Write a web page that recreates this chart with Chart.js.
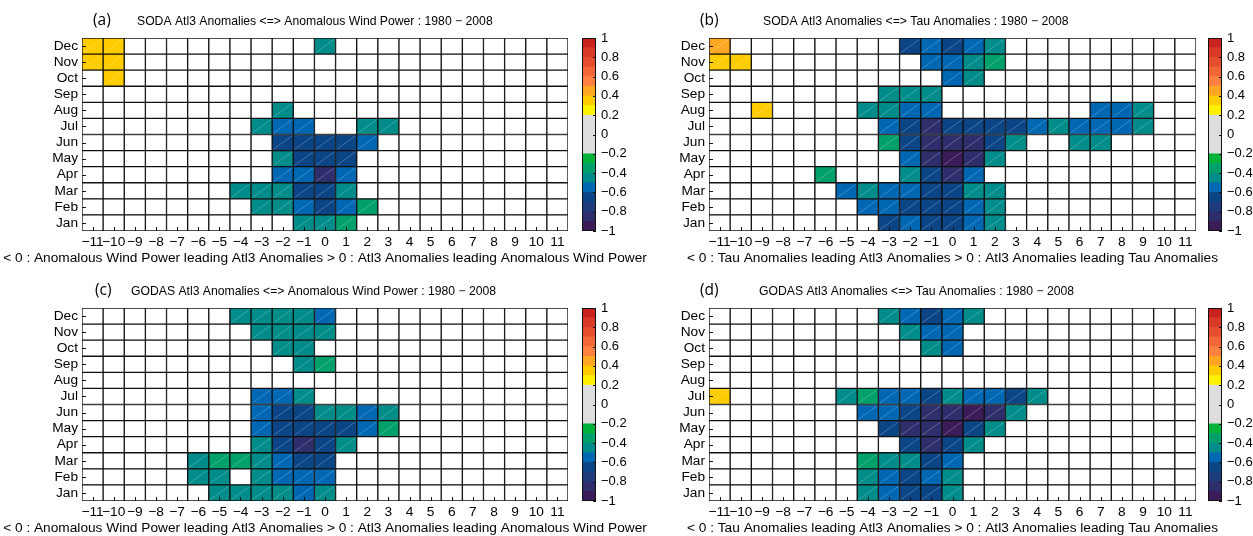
<!DOCTYPE html>
<html>
<head>
<meta charset="utf-8">
<script src="https://cdn.jsdelivr.net/npm/chart.js@4.4.1/dist/chart.umd.min.js"></script>
<style>
  body { margin: 0; background: #fff; width: 1253px; height: 536px; overflow: hidden; position: relative; }
  canvas { position: absolute; }
</style>
</head>
<body>
<canvas id="chartA" width="660" height="268" style="left:0;top:0"></canvas>
<canvas id="chartB" width="627" height="268" style="left:626px;top:0"></canvas>
<canvas id="chartC" width="660" height="266" style="left:0;top:270px"></canvas>
<canvas id="chartD" width="627" height="266" style="left:626px;top:270px"></canvas>
<canvas id="cbarA" width="60" height="268" style="left:570px;top:0"></canvas>
<canvas id="cbarB" width="57" height="268" style="left:1196px;top:0"></canvas>
<canvas id="cbarC" width="60" height="266" style="left:570px;top:270px"></canvas>
<canvas id="cbarD" width="57" height="266" style="left:1196px;top:270px"></canvas>
<script>
// Data
const _ = null;
const months = ['Jan', 'Feb', 'Mar', 'Apr', 'May', 'Jun', 'Jul', 'Aug', 'Sep', 'Oct', 'Nov', 'Dec'];
const lags = [-11, -10, -9, -8, -7, -6, -5, -4, -3, -2, -1, 0, 1, 2, 3, 4, 5, 6, 7, 8, 9, 10, 11];
const colorbarTicks = [-1, -0.8, -0.6, -0.4, -0.2, 0, 0.2, 0.4, 0.6, 0.8, 1];

// 20 colour levels, -1 to 1 in steps of 0.1
const levelColors = [
  '#3b1c58', '#2e2e6c', '#1e3b7c', '#0b4586', '#0067b2', '#008c89', '#00a06b', '#00b23a',
  '#dddddd', '#dddddd', '#dddddd', '#dddddd',
  '#fff200', '#ffcc00', '#ffa722', '#ff8040', '#f26637', '#e54f2e', '#d83a27', '#c92320'
];

// correlations, rows Jan..Dec, columns lag -11..11 (null = not significant)
const sodaWindPower = [
  [_,_,_,_,_,_,_,_,_,_,-.45,-.45,-.35,_,_,_,_,_,_,_,_,_,_],
  [_,_,_,_,_,_,_,_,-.45,-.45,-.55,-.65,-.55,-.35,_,_,_,_,_,_,_,_,_],
  [_,_,_,_,_,_,_,-.45,-.45,-.45,-.65,-.65,-.45,_,_,_,_,_,_,_,_,_,_],
  [_,_,_,_,_,_,_,_,_,-.55,-.55,-.85,-.55,_,_,_,_,_,_,_,_,_,_],
  [_,_,_,_,_,_,_,_,_,-.45,-.65,-.65,-.65,_,_,_,_,_,_,_,_,_,_],
  [_,_,_,_,_,_,_,_,_,-.65,-.65,-.65,-.65,-.55,_,_,_,_,_,_,_,_,_],
  [_,_,_,_,_,_,_,_,-.45,-.55,-.55,_,_,-.45,-.45,_,_,_,_,_,_,_,_],
  [_,_,_,_,_,_,_,_,_,-.45,_,_,_,_,_,_,_,_,_,_,_,_,_],
  [_,_,_,_,_,_,_,_,_,_,_,_,_,_,_,_,_,_,_,_,_,_,_],
  [_,.35,_,_,_,_,_,_,_,_,_,_,_,_,_,_,_,_,_,_,_,_,_],
  [.35,.35,_,_,_,_,_,_,_,_,_,_,_,_,_,_,_,_,_,_,_,_,_],
  [.35,.35,_,_,_,_,_,_,_,_,_,-.45,_,_,_,_,_,_,_,_,_,_,_]
];

const sodaTau = [
  [_,_,_,_,_,_,_,_,-.65,-.55,-.65,-.65,-.55,-.45,_,_,_,_,_,_,_,_,_],
  [_,_,_,_,_,_,_,-.55,-.55,-.65,-.65,-.65,-.55,-.45,_,_,_,_,_,_,_,_,_],
  [_,_,_,_,_,_,-.55,-.45,-.55,-.55,-.65,-.65,-.45,-.45,_,_,_,_,_,_,_,_,_],
  [_,_,_,_,_,-.35,_,_,_,-.45,-.65,-.85,-.55,_,_,_,_,_,_,_,_,_,_],
  [_,_,_,_,_,_,_,_,_,-.55,-.85,-.95,-.85,-.45,_,_,_,_,_,_,_,_,_],
  [_,_,_,_,_,_,_,_,-.35,-.65,-.85,-.85,-.85,-.65,-.45,_,_,-.45,-.45,_,_,_,_],
  [_,_,_,_,_,_,_,_,-.55,-.65,-.85,-.65,-.65,-.65,-.65,-.55,-.45,-.55,-.55,-.55,-.45,_,_],
  [_,_,.35,_,_,_,_,-.45,-.45,-.55,-.55,_,_,_,_,_,_,_,-.55,-.55,-.45,_,_],
  [_,_,_,_,_,_,_,_,-.45,-.45,-.45,_,_,_,_,_,_,_,_,_,_,_,_],
  [_,_,_,_,_,_,_,_,_,_,_,-.55,-.45,_,_,_,_,_,_,_,_,_,_],
  [.35,.35,_,_,_,_,_,_,_,_,-.55,-.55,-.45,-.35,_,_,_,_,_,_,_,_,_],
  [.45,_,_,_,_,_,_,_,_,-.65,-.55,-.65,-.55,-.45,_,_,_,_,_,_,_,_,_]
];

const godasWindPower = [
  [_,_,_,_,_,_,-.45,-.45,-.45,-.45,-.55,-.45,_,_,_,_,_,_,_,_,_,_,_],
  [_,_,_,_,_,-.45,-.45,_,-.45,-.55,-.55,-.55,_,_,_,_,_,_,_,_,_,_,_],
  [_,_,_,_,_,-.45,-.35,-.35,-.45,-.55,-.65,-.65,_,_,_,_,_,_,_,_,_,_,_],
  [_,_,_,_,_,_,_,_,-.45,-.65,-.85,-.65,-.45,_,_,_,_,_,_,_,_,_,_],
  [_,_,_,_,_,_,_,_,-.55,-.65,-.65,-.65,-.65,-.55,-.35,_,_,_,_,_,_,_,_],
  [_,_,_,_,_,_,_,_,-.55,-.65,-.65,-.45,-.45,-.55,-.45,_,_,_,_,_,_,_,_],
  [_,_,_,_,_,_,_,_,-.55,-.55,-.45,_,_,_,_,_,_,_,_,_,_,_,_],
  [_,_,_,_,_,_,_,_,_,_,_,_,_,_,_,_,_,_,_,_,_,_,_],
  [_,_,_,_,_,_,_,_,_,_,-.45,-.35,_,_,_,_,_,_,_,_,_,_,_],
  [_,_,_,_,_,_,_,_,_,-.45,-.45,_,_,_,_,_,_,_,_,_,_,_,_],
  [_,_,_,_,_,_,_,_,-.45,-.45,-.45,-.45,_,_,_,_,_,_,_,_,_,_,_],
  [_,_,_,_,_,_,_,-.45,-.45,-.45,-.45,-.55,_,_,_,_,_,_,_,_,_,_,_]
];

const godasTau = [
  [_,_,_,_,_,_,_,-.45,-.55,-.65,-.65,-.45,_,_,_,_,_,_,_,_,_,_,_],
  [_,_,_,_,_,_,_,-.45,-.55,-.65,-.55,-.45,_,_,_,_,_,_,_,_,_,_,_],
  [_,_,_,_,_,_,_,-.35,-.45,-.45,-.65,-.55,_,_,_,_,_,_,_,_,_,_,_],
  [_,_,_,_,_,_,_,_,_,-.65,-.85,-.65,-.45,_,_,_,_,_,_,_,_,_,_],
  [_,_,_,_,_,_,_,_,-.65,-.85,-.85,-.95,-.65,-.45,_,_,_,_,_,_,_,_,_],
  [_,_,_,_,_,_,_,-.55,-.55,-.65,-.85,-.85,-.95,-.85,-.45,_,_,_,_,_,_,_,_],
  [.35,_,_,_,_,_,-.45,-.35,-.55,-.55,-.65,-.45,-.55,-.55,-.65,-.45,_,_,_,_,_,_,_],
  [_,_,_,_,_,_,_,_,_,_,_,_,_,_,_,_,_,_,_,_,_,_,_],
  [_,_,_,_,_,_,_,_,_,_,_,_,_,_,_,_,_,_,_,_,_,_,_],
  [_,_,_,_,_,_,_,_,_,_,-.45,-.55,_,_,_,_,_,_,_,_,_,_,_],
  [_,_,_,_,_,_,_,_,_,-.45,-.55,-.55,_,_,_,_,_,_,_,_,_,_,_],
  [_,_,_,_,_,_,_,_,-.45,-.55,-.65,-.55,-.45,_,_,_,_,_,_,_,_,_,_]
];

// Helpers
const FONT = '"Liberation Sans", Arial, sans-serif';
Chart.defaults.font.family = FONT;
Chart.defaults.font.size = 13.7;
Chart.defaults.color = '#000';

const fmt = v => (v < 0 ? '\u2212' : '') + Math.abs(Math.round(v * 10) / 10);

function cellColor(v) {
  if (v === null) return '#ffffff';
  return levelColors[Math.min(19, Math.max(0, Math.floor((v + 1) * 10)))];
}

// Panels
const panels = [
  { id: 'chartA', cbar: 'cbarA', left: 0, width: 660, height: 268, areaLeft: 82, areaRight: 568, top: 38, xHeight: 37,
    label: '(a)', labelX: 93, titleX: 137, values: sodaWindPower,
    title: 'SODA Atl3 Anomalies <=> Anomalous Wind Power : 1980 \u2212 2008',
    xTitle: '< 0 : Anomalous Wind Power leading Atl3 Anomalies > 0 : Atl3 Anomalies leading Anomalous Wind Power' },
  { id: 'chartB', cbar: 'cbarB', left: 626, width: 627, height: 268, areaLeft: 709, areaRight: 1196, top: 38, xHeight: 37,
    label: '(b)', labelX: 700, titleX: 763, values: sodaTau,
    title: 'SODA Atl3 Anomalies <=> Tau Anomalies : 1980 \u2212 2008',
    xTitle: '< 0 : Tau Anomalies leading Atl3 Anomalies > 0 : Atl3 Anomalies leading Tau Anomalies' },
  { id: 'chartC', cbar: 'cbarC', left: 0, width: 660, height: 266, areaLeft: 82, areaRight: 568, top: 38, xHeight: 35,
    label: '(c)', labelX: 95, titleX: 131, values: godasWindPower,
    title: 'GODAS Atl3 Anomalies <=> Anomalous Wind Power : 1980 \u2212 2008',
    xTitle: '< 0 : Anomalous Wind Power leading Atl3 Anomalies > 0 : Atl3 Anomalies leading Anomalous Wind Power' },
  { id: 'chartD', cbar: 'cbarD', left: 626, width: 627, height: 266, areaLeft: 709, areaRight: 1196, top: 38, xHeight: 35,
    label: '(d)', labelX: 700, titleX: 759, values: godasTau,
    title: 'GODAS Atl3 Anomalies <=> Tau Anomalies : 1980 \u2212 2008',
    xTitle: '< 0 : Tau Anomalies leading Atl3 Anomalies > 0 : Atl3 Anomalies leading Tau Anomalies' }
];

function tickLine(ctx, x1, y1, x2, y2) {
  ctx.beginPath();
  ctx.moveTo(x1, y1);
  ctx.lineTo(x2, y2);
  ctx.stroke();
}

// Heatmap panel
function heatmap(p) {
  const decor = {
    id: 'decor',
    afterDatasetsDraw(chart) {
      const { ctx, chartArea: a, scales: { x, y } } = chart;
      ctx.save();
      // faint diagonal through coloured cells
      ctx.strokeStyle = 'rgba(255,255,255,0.35)';
      ctx.lineWidth = 0.7;
      months.forEach((m, r) => {
        chart.getDatasetMeta(r).data.forEach((bar, c) => {
          if (p.values[r][c] === null) return;
          const { x: cx, y: top, base, width } = bar.getProps(['x', 'y', 'base', 'width'], true);
          tickLine(ctx, cx - width / 2 + 1.5, base - 1.5, cx + width / 2 - 1.5, top + 1.5);
        });
      });
      // short inward tick marks
      ctx.strokeStyle = '#111';
      ctx.lineWidth = 1;
      y.ticks.forEach(t => {
        const py = Math.round(y.getPixelForValue(t.value)) + 0.5;
        tickLine(ctx, a.left, py, a.left + 4, py);
      });
      lags.forEach((l, i) => {
        const px = Math.round(x.getPixelForValue(i)) + 0.5;
        tickLine(ctx, px, a.bottom, px, a.bottom - 4);
      });
      ctx.restore();
    },
    afterDraw(chart) {
      const { ctx, chartArea: a } = chart;
      ctx.save();
      ctx.fillStyle = '#000';
      ctx.textBaseline = 'middle';
      ctx.textAlign = 'left';
      ctx.font = '15.5px "Open Sans", sans-serif';
      ctx.fillText(p.label, p.labelX - p.left, a.top - 17);
      ctx.font = '12.2px ' + FONT;
      ctx.fillText(p.title, p.titleX - p.left, a.top - 16);
      ctx.textAlign = 'center';
      ctx.font = '13.7px ' + FONT;
      ctx.fillText(p.xTitle, (a.left + a.right) / 2, a.bottom + 27);
      ctx.restore();
    }
  };

  return new Chart(document.getElementById(p.id), {
    type: 'bar',
    data: {
      labels: lags.map(fmt),
      datasets: months.map((m, r) => ({
        label: m,
        data: lags.map(() => 1),
        backgroundColor: p.values[r].map(cellColor),
        borderColor: '#111',
        borderWidth: 1,
        borderSkipped: false,
        barPercentage: 1,
        categoryPercentage: 1
      }))
    },
    options: {
      responsive: false,
      animation: false,
      layout: { padding: { left: 0, top: p.top, right: p.width - (p.areaRight - p.left), bottom: 0 } },
      plugins: { legend: { display: false }, tooltip: { enabled: false } },
      scales: {
        x: {
          stacked: true,
          grid: { display: false, drawTicks: false },
          border: { display: false },
          ticks: { autoSkip: false, maxRotation: 0, padding: 3 },
          afterFit: s => { s.height = p.xHeight; }
        },
        y: {
          stacked: true,
          min: 0,
          max: 12,
          grid: { display: false, drawTicks: false },
          border: { display: false },
          afterBuildTicks: s => { s.ticks = months.map((m, i) => ({ value: i + 0.5 })); },
          ticks: { autoSkip: false, padding: 4, callback: v => months[Math.floor(v)] },
          afterFit: s => { s.width = p.areaLeft - p.left; }
        }
      }
    },
    plugins: [decor]
  });
}

// Colour bar
function colorbar(p) {
  const frame = {
    id: 'frame',
    afterDatasetsDraw(chart) {
      const { ctx, chartArea: a, scales: { y } } = chart;
      ctx.save();
      ctx.strokeStyle = '#111';
      ctx.lineWidth = 1;
      ctx.strokeRect(Math.round(a.left) + 0.5, Math.round(a.top) + 0.5, Math.round(a.right - a.left) - 1, Math.round(a.bottom - a.top) - 1);
      y.ticks.forEach(t => {
        const py = Math.round(y.getPixelForValue(t.value)) + 0.5;
        tickLine(ctx, a.right - 3, py, a.right, py);
      });
      ctx.restore();
    }
  };
  const el = document.getElementById(p.cbar);
  const cbLeft = p.left === 0 ? 12 : 12;
  return new Chart(el, {
    type: 'bar',
    data: {
      labels: [''],
      datasets: levelColors.map((c, i) => ({
        data: [[-1 + i / 10, -1 + (i + 1) / 10]],
        backgroundColor: c,
        borderWidth: 0,
        grouped: false,
        barPercentage: 1,
        categoryPercentage: 1
      }))
    },
    options: {
      responsive: false,
      animation: false,
      layout: { padding: { left: cbLeft, top: p.top, right: 0, bottom: p.xHeight } },
      plugins: { legend: { display: false }, tooltip: { enabled: false } },
      scales: {
        x: { display: false },
        y: {
          position: 'right',
          min: -1,
          max: 1,
          grid: { display: false, drawTicks: false },
          border: { display: false },
          afterBuildTicks: s => { s.ticks = colorbarTicks.map(v => ({ value: v })); },
          ticks: { autoSkip: false, padding: 5, font: { size: 13 }, callback: v => fmt(v) },
          afterFit: s => { s.width = el.width - cbLeft - 14; }
        }
      }
    },
    plugins: [frame]
  });
}

panels.forEach(p => {
  heatmap(p);
  colorbar(p);
});
</script>
</body>
</html>
